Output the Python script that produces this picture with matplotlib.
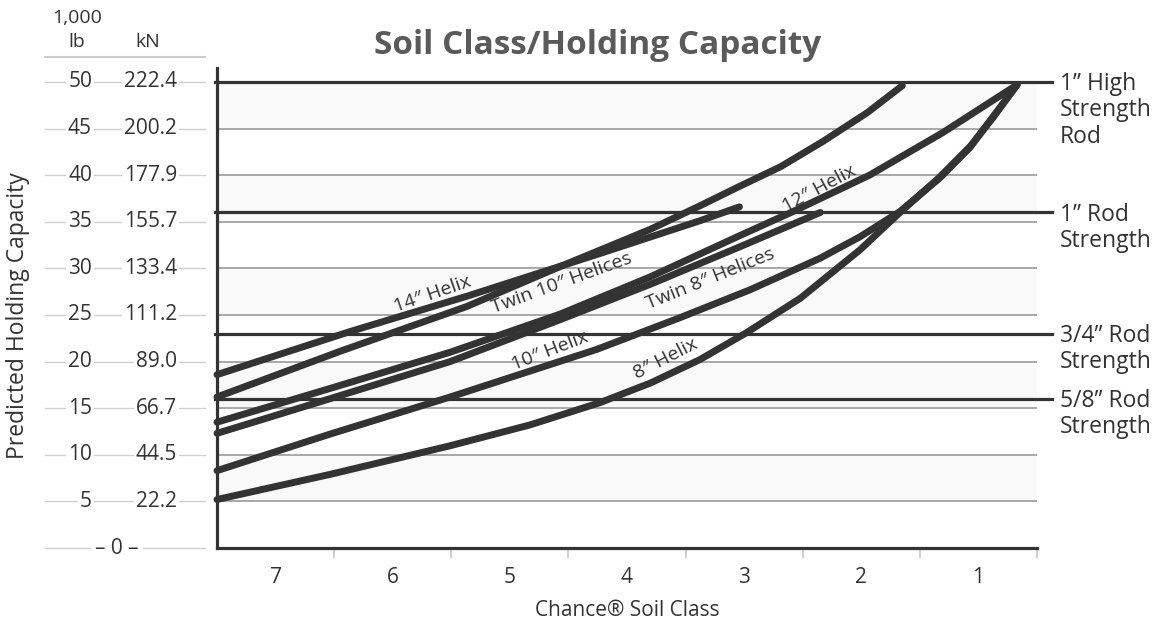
import matplotlib.pyplot as plt
from matplotlib.lines import Line2D

plt.rcParams['font.family'] = ['Open Sans', 'DejaVu Sans']

# soil classes along the bottom, strongest soil on the right
soil_classes = [7, 6, 5, 4, 3, 2, 1]
class_edges = [7.5, 6.5, 5.5, 4.5, 3.5, 2.5, 1.5, 0.5]

# left scale: 1,000 lb and kN
lb_ticks = [50, 45, 40, 35, 30, 25, 20, 15, 10, 5]
kn_labels = ['222.4', '200.2', '177.9', '155.7', '133.4',
             '111.2', '89.0', '66.7', '44.5', '22.2']

# rod strength limits (1,000 lb)
rod_strengths = [50, 36, 23, 16]
rod_labels = ['1\u201d High\nStrength\nRod', '1\u201d Rod\nStrength',
              '3/4\u201d Rod\nStrength', '5/8\u201d Rod\nStrength']

# helix curves: soil class position vs capacity (1,000 lb)
helix14_x = [7.5, 6.37, 5.37, 4.23, 3.38, 3.04]
helix14_y = [18.6, 23.2, 27.0, 31.6, 35.1, 36.6]

twin10_x = [7.5, 6.45, 5.37, 4.57, 3.80, 3.38, 3.04, 2.69, 2.33, 1.95, 1.65]
twin10_y = [16.2, 21.1, 25.9, 30.2, 34.2, 36.7, 38.8, 40.9, 43.6, 46.7, 49.6]

helix12_x = [7.5, 6.54, 5.51, 4.57, 3.80, 3.04, 2.60, 1.93, 1.30, 0.67]
helix12_y = [13.5, 17.1, 21.0, 25.1, 29.1, 33.5, 36.0, 40.0, 44.6, 49.7]

twin8_x = [7.5, 6.54, 5.51, 4.57, 3.80, 3.04, 2.35]
twin8_y = [12.3, 16.0, 20.0, 24.5, 28.3, 32.3, 36.0]

helix10_x = [7.5, 6.54, 5.51, 4.26, 3.55, 2.95, 2.35, 2.01, 1.67, 1.33, 1.07, 0.88, 0.67]
helix10_y = [8.3, 12.2, 16.2, 21.3, 24.7, 27.7, 31.1, 33.4, 36.1, 39.7, 43.0, 46.2, 49.7]

helix8_x = [7.5, 6.51, 5.51, 4.83, 4.23, 3.80, 3.38, 2.98, 2.52, 2.01, 1.67,
            1.33, 1.07, 0.88, 0.67]
helix8_y = [5.2, 7.97, 10.97, 13.2, 15.6, 17.7, 20.2, 23.1, 26.8, 32.0, 36.0,
            39.8, 43.1, 46.1, 49.7]

curve_names = ['14\u2033 Helix', 'Twin 10\u2033 Helices', '12\u2033 Helix',
               'Twin 8\u2033 Helices', '10\u2033 Helix', '8\u2033 Helix']

dark = '#333333'
grid_gray = '#a8a8a8'
txt = '#333333'

fig = plt.figure(figsize=(11.61, 6.22), dpi=100)
ax = fig.add_axes([217 / 1161, 1 - 548 / 622, 820 / 1161, 480 / 622])
ax.set_xlim(7.5, 0.5)
ax.set_ylim(0, 51.5)

# alternating light bands + grid
for lo in range(5, 50, 10):
    ax.axhspan(lo, lo + 5, color='#f9f9f9', zorder=0, lw=0)
for v in lb_ticks[1:]:
    ax.axhline(v, color=grid_gray, lw=1.4, zorder=1)

# rod strength lines, running out past the plot
yt = ax.get_yaxis_transform()
for v, lab in zip(rod_strengths, rod_labels):
    ax.plot([-0.003, 1.018], [v, v], transform=yt, color=dark, lw=2.3,
            clip_on=False, zorder=2)
    ax.annotate(lab, xy=(1.028, v), xycoords=yt, xytext=(0, 7),
                textcoords='offset points', ha='left', va='top',
                fontsize=16.5, color=txt, linespacing=1.12)

curves = [(helix14_x, helix14_y), (twin10_x, twin10_y), (helix12_x, helix12_y),
          (twin8_x, twin8_y), (helix10_x, helix10_y), (helix8_x, helix8_y)]
for cx, cy in curves:
    ax.plot(cx, cy, color=dark, lw=5, solid_capstyle='round',
            solid_joinstyle='round', zorder=3, clip_on=False)

# curve labels (position in class units / 1,000 lb, rotation in degrees)
label_spots = [(5.66, 27.2, 19), (4.56, 28.4, 20), (2.36, 38.6, 28),
               (3.29, 28.9, 22), (4.66, 21.1, 21), (3.67, 20.3, 27)]
for name, (lx, ly, rot) in zip(curve_names, label_spots):
    ax.text(lx, ly, name, rotation=rot, ha='center', va='center',
            fontsize=14, color=txt, zorder=4, rotation_mode='anchor')

# spines / ticks
for s in ['top', 'right']:
    ax.spines[s].set_visible(False)
ax.spines['left'].set_color(dark)
ax.spines['left'].set_linewidth(2.3)
ax.spines['bottom'].set_color(dark)
ax.spines['bottom'].set_linewidth(2.3)
ax.set_yticks([])
ax.set_xticks(soil_classes)
ax.set_xticklabels([str(c) for c in soil_classes])
ax.tick_params(axis='x', which='major', length=0, pad=14, labelsize=15,
               labelcolor=txt)
ax.set_xticks(class_edges[1:], minor=True)
ax.tick_params(axis='x', which='minor', length=7, width=1.3,
               color='#cccccc', direction='out')
ax.set_xlabel('Chance\u00ae Soil Class', fontsize=15, color=txt, labelpad=8)

# left dual scale with faint leader lines
x_a = (45 - 217) / 820
x_b = (205 - 217) / 820
x_lb = (92 - 217) / 820
x_kn = (177 - 217) / 820
box = dict(facecolor='white', edgecolor='none', pad=1.5)
for v, kn in zip(lb_ticks, kn_labels):
    ax.plot([x_a, x_b], [v, v], transform=yt, color='#cfcfcf', lw=1,
            clip_on=False)
    ax.text(x_lb, v, str(v), transform=yt, ha='right', va='center',
            fontsize=15, color=txt, bbox=box)
    ax.text(x_kn, v, kn, transform=yt, ha='right', va='center',
            fontsize=15, color=txt, bbox=box)
ax.plot([x_a, x_b], [0, 0], transform=yt, color='#cfcfcf', lw=1, clip_on=False)
ax.text((117 - 217) / 820, 0, '\u2013 0 \u2013', transform=yt, ha='center',
        va='center', fontsize=15, color=txt, bbox=dict(facecolor='white',
                                                       edgecolor='none', pad=3))

fig.text(77 / 1161, 1 - 18 / 622, '1,000', ha='center', va='center',
         fontsize=14, color=txt)
fig.text(77 / 1161, 1 - 42 / 622, 'lb', ha='center', va='center',
         fontsize=14, color=txt)
fig.text(148 / 1161, 1 - 42 / 622, 'kN', ha='center', va='center',
         fontsize=14, color=txt)
fig.add_artist(Line2D([45 / 1161, 205 / 1161], [1 - 57 / 622, 1 - 57 / 622],
                      color='#cccccc', lw=1.5))
fig.text(18 / 1161, 1 - 316 / 622, 'Predicted Holding Capacity', rotation=90,
         ha='center', va='center', fontsize=16.5, color=txt)

fig.text(598 / 1161, 1 - 45 / 622, 'Soil Class/Holding Capacity',
         ha='center', va='center', fontsize=24, fontweight='bold',
         color='#5a5a5a')

fig.savefig('out.png', dpi=100)
